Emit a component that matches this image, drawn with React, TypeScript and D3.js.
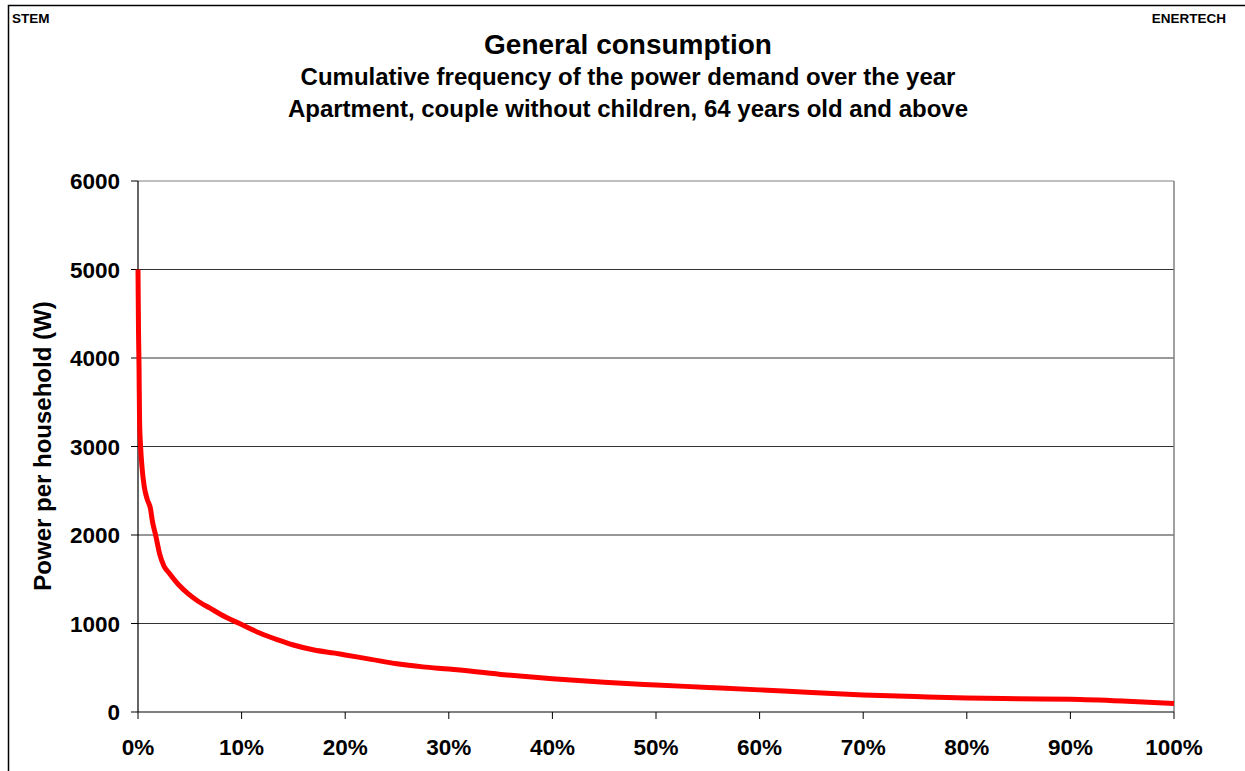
import React from "react";
import * as d3 from "d3";

const shareOfYear: number[] = [0, 0.05, 0.1, 0.15, 0.25, 0.4, 0.6, 0.9, 1.2, 1.4, 1.7, 2.1, 2.5, 3.0, 3.9, 4.8, 5.7, 7.0, 8.5, 9.8, 11.8, 13.5, 15, 17, 19, 20, 22.5, 25, 27.5, 30, 35, 40, 45, 50, 55, 60, 65, 70, 75, 80, 85, 90, 95, 100];
const powerW: number[] = [5000, 4300, 3900, 3300, 3000, 2750, 2550, 2400, 2300, 2150, 2000, 1780, 1650, 1570, 1440, 1340, 1260, 1170, 1070, 1000, 890, 815, 757, 700, 665, 645, 595, 545, 510, 485, 425, 375, 335, 305, 278, 250, 220, 193, 175, 158, 150, 145, 125, 95];
const yTicks: number[] = [0, 1000, 2000, 3000, 4000, 5000, 6000];
const xTicks: number[] = [0, 10, 20, 30, 40, 50, 60, 70, 80, 90, 100];

const title = "General consumption";
const subtitle1 = "Cumulative frequency of the power demand over the year";
const subtitle2 = "Apartment, couple without children, 64 years old and above";
const yLabel = "Power per household (W)";

export default function App() {
  const W = 1245, H = 771;
  const left = 138, right = 1174, top = 181, bottom = 712;
  const x = d3.scaleLinear().domain([0, 100]).range([left, right]);
  const y = d3.scaleLinear().domain([0, 6000]).range([bottom, top]);
  const pts = shareOfYear.map((s, i) => [s, powerW[i]] as [number, number]);
  const line = d3.line<[number, number]>().x(d => x(d[0])).y(d => y(d[1])).curve(d3.curveMonotoneX);
  const font = "'Liberation Sans', Arial, sans-serif";
  return (
    <svg width={W} height={H} style={{ position: "absolute", left: 0, top: 0 }} fontFamily={font}>
      <rect x={0} y={0} width={W} height={H} fill="#fff" />
      <rect x={8.5} y={5.5} width={W + 20} height={H + 20} fill="none" stroke="#000" strokeWidth={1.5} />
      <text x={12} y={22.5} fontSize={13.5} fontWeight="bold">STEM</text>
      <text x={1226} y={22.5} fontSize={13.5} fontWeight="bold" textAnchor="end">ENERTECH</text>
      <text x={628} y={54} fontSize={28} fontWeight="bold" textAnchor="middle">{title}</text>
      <text x={628} y={85} fontSize={24} fontWeight="bold" textAnchor="middle">{subtitle1}</text>
      <text x={628} y={117} fontSize={24} fontWeight="bold" textAnchor="middle">{subtitle2}</text>
      {yTicks.filter(t => t > 0).map(t => (
        <line key={"g" + t} x1={left} x2={right} y1={y(t)} y2={y(t)} stroke={t === 6000 ? "#808080" : "#333"} strokeWidth={1} />
      ))}
      <line x1={right} x2={right} y1={top} y2={bottom} stroke="#808080" strokeWidth={1.5} />
      <line x1={left} x2={left} y1={top} y2={bottom} stroke="#000" strokeWidth={1.2} />
      <line x1={left} x2={right} y1={bottom} y2={bottom} stroke="#000" strokeWidth={1.2} />
      {yTicks.map(t => (
        <g key={"y" + t}>
          <line x1={left - 7} x2={left} y1={y(t)} y2={y(t)} stroke="#000" strokeWidth={1} />
          <text x={120} y={y(t) + 8} fontSize={22.5} fontWeight="bold" textAnchor="end">{t}</text>
        </g>
      ))}
      {xTicks.map(t => (
        <g key={"x" + t}>
          <line x1={x(t)} x2={x(t)} y1={bottom} y2={bottom + 7} stroke="#000" strokeWidth={1} />
          <text x={x(t)} y={755} fontSize={22.5} fontWeight="bold" textAnchor="middle">{t + "%"}</text>
        </g>
      ))}
      <text transform={`translate(51,446) rotate(-90)`} fontSize={24} fontWeight="bold" textAnchor="middle">{yLabel}</text>
      <path d={line(pts) || ""} fill="none" stroke="#ff0000" strokeWidth={5} strokeLinejoin="round" />
    </svg>
  );
}
